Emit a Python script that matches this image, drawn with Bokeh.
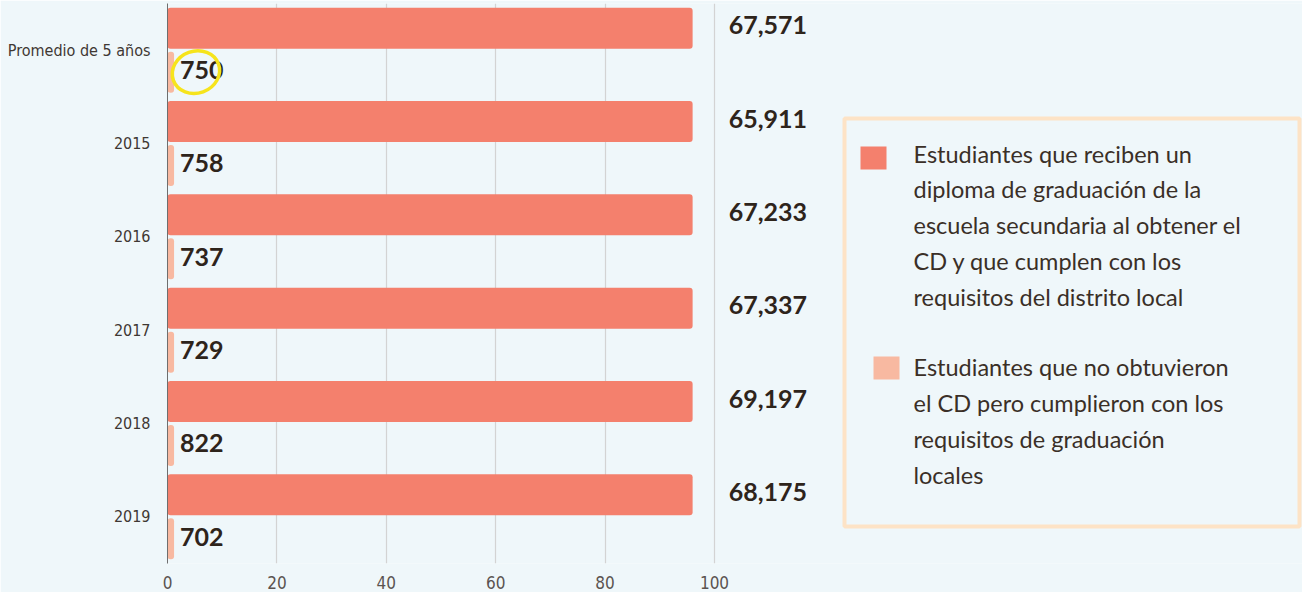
from bokeh.plotting import figure
from bokeh.models import Range1d, FactorRange, FixedTicker, Label, BoxAnnotation, ColumnDataSource
from bokeh.transform import dodge
from bokeh.core.properties import value
from bokeh.embed import file_html
from bokeh.resources import INLINE

# ---------------- data ----------------
categories = ["Promedio de 5 años", "2015", "2016", "2017", "2018", "2019"]
pct_graduates = [96.0, 96.0, 96.0, 96.0, 96.0, 96.0]
pct_no_cd = [1.2, 1.2, 1.2, 1.2, 1.2, 1.2]
count_graduates = ["67,571", "65,911", "67,233", "67,337", "69,197", "68,175"]
count_no_cd = ["750", "758", "737", "729", "822", "702"]
x_ticks = [0, 20, 40, 60, 80, 100]
legend_graduates = ["Estudiantes que reciben un", "diploma de graduación de la",
                    "escuela secundaria al obtener el", "CD y que cumplen con los",
                    "requisitos del distrito local"]
legend_no_cd = ["Estudiantes que no obtuvieron", "el CD pero cumplieron con los",
                "requisitos de graduación", "locales"]

# ---------------- style ----------------
BG = "#eff7fa"
C_GRAD = "#f4806d"
C_NOCD = "#f8b9a1"
TEXT = "#2e241b"
LEG_TEXT = "#3a2f27"
NARROW = "DejaVu Sans Condensed"

src = ColumnDataSource(dict(cat=categories, grad=pct_graduates, nocd=pct_no_cd,
                            grad_lbl=count_graduates, nocd_lbl=count_no_cd))

W, H = 1302, 592
LEFT, TOP, BOTTOM = 167, 3, 29
PX_PER_UNIT = 5.47
p = figure(width=W, height=H, x_range=Range1d(0, (W - LEFT) / PX_PER_UNIT),
           y_range=FactorRange(factors=categories[::-1], range_padding=0),
           output_backend="svg", toolbar_location=None,
           min_border_left=LEFT, min_border_right=0, min_border_top=TOP, min_border_bottom=BOTTOM,
           background_fill_color=BG, border_fill_color=BG, outline_line_color=None)

OFF = 0.2355
BAR_H = 0.439
p.hbar(y=dodge("cat", OFF, range=p.y_range), left=0, right="grad", height=BAR_H,
       source=src, fill_color=C_GRAD, line_color=None, border_radius=3)
p.hbar(y=dodge("cat", -OFF, range=p.y_range), left=0, right="nocd", height=BAR_H,
       source=src, fill_color=C_NOCD, line_color=None, border_radius=3)

p.text(x=102.6, y=dodge("cat", OFF, range=p.y_range), text="grad_lbl", source=src,
       text_font=value("Lato"), text_font_style="bold", text_font_size="25px",
       text_color=TEXT, text_baseline="middle", y_offset=-3)
p.text(x="nocd", y=dodge("cat", -OFF, range=p.y_range), text="nocd_lbl", source=src,
       text_font=value("Lato"), text_font_style="bold", text_font_size="25px",
       text_color=TEXT, text_baseline="middle", x_offset=6, y_offset=-2)

# hand-drawn style yellow highlight around the first small-bar label
hl = ColumnDataSource(dict(cat=categories[:1], x=[pct_no_cd[0] + 4.0]))
p.ellipse(x="x", y=dodge("cat", -OFF, range=p.y_range), width=48, height=42,
          width_units="screen", height_units="screen", angle=0.35, source=hl,
          fill_color=None, line_color="#f6e41c", line_width=3.5)

# grid
p.xgrid.ticker = FixedTicker(ticks=x_ticks)
p.xgrid.grid_line_color = "#d3d3d3"
p.xgrid.grid_line_width = 1.2
p.ygrid.grid_line_color = None

# x axis
p.xaxis.ticker = FixedTicker(ticks=x_ticks)
p.xaxis.axis_line_color = None
p.xaxis.major_tick_line_color = None
p.xaxis.minor_tick_line_color = None
p.xaxis.major_label_text_font = NARROW
p.xaxis.major_label_text_font_size = "17px"
p.xaxis.major_label_text_color = "#5b5350"
p.xaxis.major_label_standoff = 6

# y axis
p.yaxis.axis_line_color = "#6e6e6e"
p.yaxis.axis_line_width = 1
p.yaxis.major_tick_line_color = None
p.yaxis.minor_tick_line_color = None
p.yaxis.major_label_text_font = NARROW
p.yaxis.major_label_text_font_size = "16px"
p.yaxis.major_label_text_color = "#3f3833"
p.yaxis.major_label_standoff = 11

def cbox(l, r, t, b, **kw):
    return BoxAnnotation(left=l, right=r, top=t, bottom=b,
                         left_units="canvas", right_units="canvas",
                         top_units="canvas", bottom_units="canvas", **kw)

# legend box and swatches
p.add_layout(cbox(844, 1299, 118, 526, fill_color=None, line_color="#fde3c6",
                  line_alpha=1, line_width=4))
p.add_layout(cbox(860, 886, 146, 169, fill_color=C_GRAD, fill_alpha=1, line_color=None))
p.add_layout(cbox(873, 899, 356, 379, fill_color=C_NOCD, fill_alpha=1, line_color=None))

for i, line in enumerate(legend_graduates):
    p.add_layout(Label(x=913, y=153 + 35.8 * i, x_units="canvas", y_units="canvas", text=line,
                       text_font="Lato", text_font_size="23.5px", text_color=LEG_TEXT,
                       text_baseline="middle"))
for i, line in enumerate(legend_no_cd):
    p.add_layout(Label(x=913, y=366 + 36 * i, x_units="canvas", y_units="canvas", text=line,
                       text_font="Lato", text_font_size="23.5px", text_color=LEG_TEXT,
                       text_baseline="middle"))

open("out.html", "w").write(file_html(p, INLINE))
